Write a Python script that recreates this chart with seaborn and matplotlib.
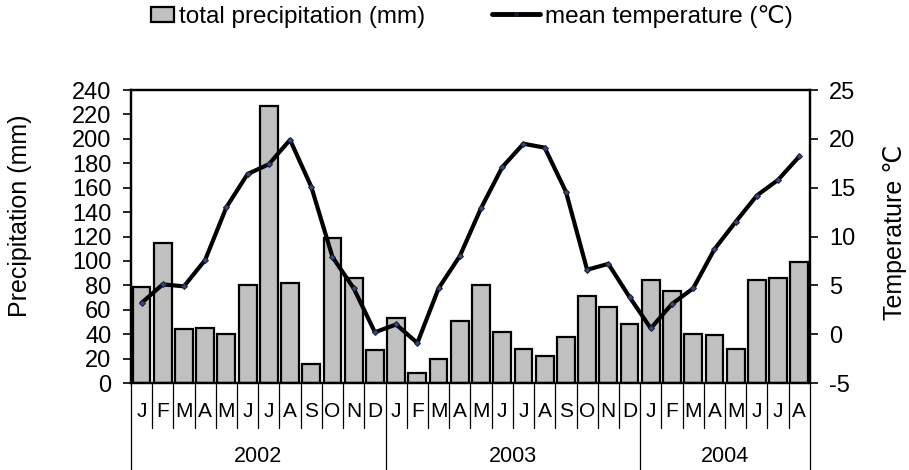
import matplotlib
matplotlib.use("Agg")
import matplotlib.pyplot as plt
from matplotlib.lines import Line2D
from matplotlib.patches import Patch, Rectangle
from matplotlib.legend_handler import HandlerPatch
from matplotlib.transforms import blended_transform_factory
import seaborn as sns
import pandas as pd
import numpy as np

# --- data ---
months = ["J", "F", "M", "A", "M", "J", "J", "A", "S", "O", "N", "D",
          "J", "F", "M", "A", "M", "J", "J", "A", "S", "O", "N", "D",
          "J", "F", "M", "A", "M", "J", "J", "A"]
years = ["2002", "2003", "2004"]
months_per_year = [12, 12, 8]
precipitation = [79, 115, 44, 45, 40, 80, 227, 82, 16, 119, 86, 27,
                 53, 8, 20, 51, 80, 42, 28, 22, 38, 71, 62, 48,
                 84, 75, 40, 39, 28, 84, 86, 99]
temperature = [3.2, 5.1, 4.9, 7.6, 13.0, 16.4, 17.4, 19.9, 15.1, 7.9, 4.7, 0.2,
               1.0, -0.9, 4.7, 8.0, 12.9, 17.1, 19.5, 19.1, 14.6, 6.6, 7.2, 3.8,
               0.6, 3.1, 4.7, 8.7, 11.5, 14.2, 15.8, 18.2]

df = pd.DataFrame({"idx": np.arange(len(months)),
                   "precip": precipitation, "temp": temperature})

sns.set_style("ticks")
plt.rcParams["font.family"] = ["Liberation Sans", "DejaVu Sans"]
plt.rcParams["text.color"] = "black"
plt.rcParams["axes.labelcolor"] = "black"
plt.rcParams["xtick.color"] = "black"
plt.rcParams["ytick.color"] = "black"
plt.rcParams["axes.unicode_minus"] = False

fig = plt.figure(figsize=(9.09, 4.70), dpi=100)
ax = fig.add_axes([0.144, 0.185, 0.747, 0.6235])

sns.barplot(data=df, x="idx", y="precip", ax=ax, color="#C0C0C0",
            edgecolor="black", linewidth=1.6, width=0.84, saturation=1)

ax2 = ax.twinx()
sns.lineplot(data=df, x="idx", y="temp", ax=ax2, color="black",
             linewidth=3.0, marker="D", markersize=3,
             markeredgecolor="#1a2040", markerfacecolor="#3a4a80")

ax.set_xlim(-0.5, len(months) - 0.5)
ax.set_ylim(0, 240)
ax.set_yticks(range(0, 241, 20))
ax2.set_ylim(-5, 25)
ax2.set_yticks(range(-5, 26, 5))

ax.set_xticks([])
ax.set_xlabel("")
ax.set_ylabel("Precipitation (mm)", fontsize=18)
ax2.set_ylabel("Temperature \u2103", fontsize=18)
ax.yaxis.set_label_coords(-0.146, 0.57)
ax2.yaxis.set_label_coords(1.108, 0.515)
ax.tick_params(axis="y", labelsize=17, length=6, width=1.2, direction="out", pad=8)
ax2.tick_params(axis="y", labelsize=17, length=6, width=1.2, direction="out", pad=8)

for a in (ax, ax2):
    for sp in a.spines.values():
        sp.set_visible(True)
        sp.set_linewidth(1.6)
        sp.set_color("black")

# multi-level category axis
trans = blended_transform_factory(ax.transData, ax.transAxes)
for i, m in enumerate(months):
    ax.text(i, -0.097, m, transform=trans, ha="center", va="center", fontsize=15)
boundaries = set(np.cumsum([0] + months_per_year))
for b in range(len(months) + 1):
    y_end = -0.297 if b in boundaries else -0.154
    ax.plot([b - 0.5, b - 0.5], [0, y_end], transform=trans, color="black",
            linewidth=0.9, clip_on=False)
start = 0
for yr, n in zip(years, months_per_year):
    ax.text(start + (n - 1) / 2, -0.25, yr, transform=trans, ha="center",
            va="center", fontsize=15.5)
    start += n


def small_box(legend, orig_handle, xdescent, ydescent, width, height, fontsize):
    # narrow box sitting at the right end of the handle slot
    w, h = 16.5, 11
    return Rectangle((-xdescent + width - w, -ydescent + (height - h) / 2), w, h)


handles = [Patch(facecolor="#C0C0C0", edgecolor="black", linewidth=1.6),
           Line2D([0], [0], color="black", linewidth=3.5, marker="D", markersize=2,
                  markeredgecolor="#1a2040")]
fig.legend(handles, ["total precipitation (mm)", "mean temperature (\u2103)"],
           loc="center", bbox_to_anchor=(0.505, 0.965), ncol=2, frameon=False,
           fontsize=17.5, handlelength=2.0, handletextpad=0.2, columnspacing=2.75,
           handler_map={Patch: HandlerPatch(patch_func=small_box)})

fig.savefig("out.png", dpi=100)
